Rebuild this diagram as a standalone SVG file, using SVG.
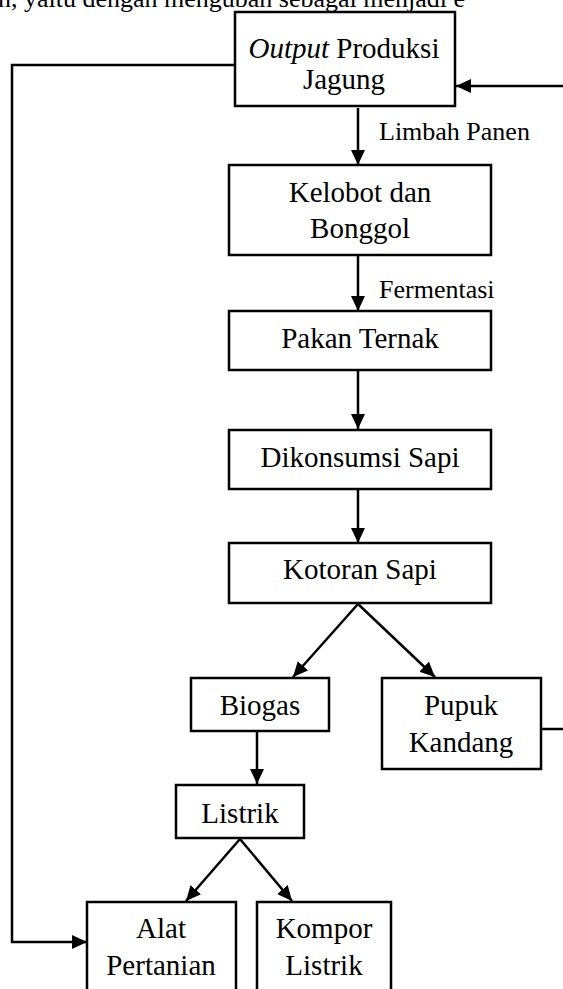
<svg xmlns="http://www.w3.org/2000/svg" width="563" height="989" viewBox="0 0 563 989">
<style>
.box{fill:#fff;stroke:#000;stroke-width:2.5}
.t{font-family:"Liberation Serif","Times New Roman",serif;font-size:29px;fill:#000;text-anchor:middle}
.lbl{font-family:"Liberation Serif","Times New Roman",serif;font-size:26px;fill:#000}
.c{fill:none;stroke:#000;stroke-width:2.5}
</style>
<defs>
<marker id="ah" markerUnits="userSpaceOnUse" markerWidth="18" markerHeight="16" refX="15" refY="7" orient="auto">
<path d="M0,0 L15,7 L0,14 Z" fill="#000"/>
</marker>
</defs>
<rect width="563" height="989" fill="#fff"/>
<text class="lbl" x="-2" y="7" font-size="29">n, yaitu dengan mengubah sebagai menjadi e</text>

<g id="connectors">
<line class="c" x1="358" y1="108" x2="358" y2="165" marker-end="url(#ah)"/>
<line class="c" x1="358" y1="255" x2="358" y2="311" marker-end="url(#ah)"/>
<line class="c" x1="358" y1="370" x2="358" y2="429" marker-end="url(#ah)"/>
<line class="c" x1="358" y1="489" x2="358" y2="543" marker-end="url(#ah)"/>
<line class="c" x1="358" y1="604" x2="293" y2="677" marker-end="url(#ah)"/>
<line class="c" x1="358" y1="604" x2="435" y2="677" marker-end="url(#ah)"/>
<line class="c" x1="257" y1="731" x2="257" y2="784" marker-end="url(#ah)"/>
<line class="c" x1="240" y1="839" x2="186" y2="901" marker-end="url(#ah)"/>
<line class="c" x1="240" y1="839" x2="292" y2="901" marker-end="url(#ah)"/>
<path class="c" d="M235,65 H12 V942 H87" marker-end="url(#ah)"/>
<path class="c" d="M541,729 H567 V86 H456" marker-end="url(#ah)"/>
<text class="lbl" x="379" y="140">Limbah Panen</text>
<text class="lbl" x="379" y="298">Fermentasi</text>
</g>

<g id="output">
<rect class="box" x="235" y="12" width="220" height="94"/>
<text class="t" x="344" y="58"><tspan font-style="italic">Output</tspan> Produksi</text>
<text class="t" x="344" y="89">Jagung</text>
</g>
<g id="kelobot">
<rect class="box" x="229" y="165" width="262" height="90"/>
<text class="t" x="360" y="202">Kelobot dan</text>
<text class="t" x="360" y="238">Bonggol</text>
</g>
<g id="pakan">
<rect class="box" x="229" y="311" width="262" height="59"/>
<text class="t" x="360" y="348">Pakan Ternak</text>
</g>
<g id="dikonsumsi">
<rect class="box" x="229" y="430" width="262" height="59"/>
<text class="t" x="360" y="467">Dikonsumsi Sapi</text>
</g>
<g id="kotoran">
<rect class="box" x="229" y="543" width="262" height="60"/>
<text class="t" x="360" y="579">Kotoran Sapi</text>
</g>
<g id="biogas">
<rect class="box" x="191" y="678" width="138" height="53"/>
<text class="t" x="260" y="715">Biogas</text>
</g>
<g id="pupuk">
<rect class="box" x="382" y="678" width="159" height="91"/>
<text class="t" x="461" y="715">Pupuk</text>
<text class="t" x="461" y="752">Kandang</text>
</g>
<g id="listrik">
<rect class="box" x="176" y="785" width="128" height="53"/>
<text class="t" x="240" y="823">Listrik</text>
</g>
<g id="alat">
<rect class="box" x="87" y="902" width="149" height="100"/>
<text class="t" x="161" y="938">Alat</text>
<text class="t" x="161" y="975">Pertanian</text>
</g>
<g id="kompor">
<rect class="box" x="257" y="902" width="134" height="100"/>
<text class="t" x="324" y="938">Kompor</text>
<text class="t" x="324" y="975">Listrik</text>
</g>
</svg>
